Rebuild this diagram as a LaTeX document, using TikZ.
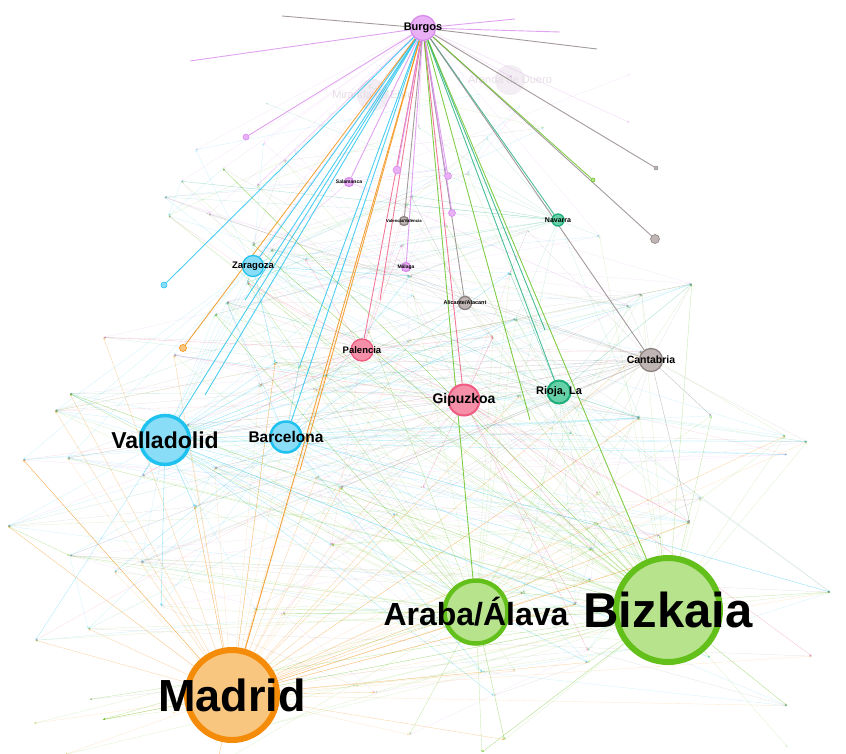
\documentclass[tikz,border=0pt]{standalone}
\usepackage{fontspec}
\setmainfont{Liberation Sans}
\usetikzlibrary{arrows.meta,backgrounds}
\definecolor{cyf}{HTML}{8ADDF6}
\definecolor{cyd}{HTML}{1FC2EF}
\definecolor{orf}{HTML}{F9C680}
\definecolor{ord}{HTML}{F48C0A}
\definecolor{grf}{HTML}{B6E38C}
\definecolor{grd}{HTML}{63C01A}
\definecolor{rdf}{HTML}{F690A9}
\definecolor{rdd}{HTML}{EE5A80}
\definecolor{tlf}{HTML}{66D1A8}
\definecolor{tld}{HTML}{1EAE7B}
\definecolor{gyf}{HTML}{BFB5B5}
\definecolor{gyd}{HTML}{8C8181}
\definecolor{vif}{HTML}{EAB0F6}
\definecolor{vid}{HTML}{D88BEB}
\definecolor{ghost}{HTML}{F3EEF3}
\definecolor{ghostt}{HTML}{E6DEE6}
\newcommand\fs[1]{\fontsize{#1}{#1}\selectfont\bfseries}
\tikzset{
  vtx/.style={circle,draw,inner sep=0pt,line width=1.3pt},
  cyv/.style={vtx,fill=cyf,draw=cyd},
  orv/.style={vtx,fill=orf,draw=ord},
  grv/.style={vtx,fill=grf,draw=grd},
  rdv/.style={vtx,fill=rdf,draw=rdd},
  tlv/.style={vtx,fill=tlf,draw=tld},
  gyv/.style={vtx,fill=gyf,draw=gyd},
  viv/.style={vtx,fill=vif,draw=vid},
  lab/.style={font=\fs{#1},text=black},
  ghostv/.style={circle,fill=ghost,label={[text=ghostt,font=\fontsize{11}{11}\selectfont]center:#1}},
  faint/.style={line width=0.3pt,opacity=0.22,-{Stealth[length=2.5pt,width=2pt]}},
  tie/.style={line width=0.9pt,opacity=0.8},
}

\begin{document}
\begin{tikzpicture}[x=1pt,y=-1pt]
  \useasboundingbox (0,0) rectangle (846,753);
  % main vertices
  \node[viv,minimum size=25pt,label={[lab=11]center:Burgos}] (burgos) at (423,28) {};
  \node[viv,minimum size=9pt,label={[lab=5]center:Salamanca}] (salamanca) at (349,182) {};
  \node[gyv,minimum size=9pt,label={[lab=4.3]center:Valencia/València}] (valencia) at (404,221) {};
  \node[viv,minimum size=9pt,label={[lab=5]center:Málaga}] (malaga) at (406,267) {};
  \node[gyv,minimum size=13pt,label={[lab=5.5]center:Alicante/Alacant}] (alicante) at (465,303) {};
  \node[tlv,minimum size=12pt,label={[lab=7]center:Navarra}] (navarra) at (558,220) {};
  \node[cyv,minimum size=21pt,label={[lab=9.5]center:Zaragoza}] (zaragoza) at (253,266) {};
  \node[rdv,minimum size=22pt,label={[lab=9.5]center:Palencia}] (palencia) at (362,350) {};
  \node[gyv,minimum size=23pt,label={[lab=10.5]center:Cantabria}] (cantabria) at (651,360) {};
  \node[rdv,minimum size=31pt,line width=2pt,label={[lab=14]center:Gipuzkoa}] (gipuzkoa) at (464,400) {};
  \node[tlv,minimum size=23pt,line width=2pt,label={[lab=11]center:{Rioja, La}}] (rioja) at (559,392) {};
  \node[cyv,minimum size=31pt,line width=2.5pt,label={[lab=15.5]center:Barcelona}] (barcelona) at (286,437) {};
  \node[cyv,minimum size=49pt,line width=3.5pt,label={[lab=23]center:Valladolid}] (valladolid) at (165,440) {};
  \node[grv,minimum size=63pt,line width=4.5pt,label={[lab=32]center:Araba/Álava}] (araba) at (476,612) {};
  \node[grv,minimum size=104pt,line width=6pt,label={[lab=49]center:Bizkaia}] (bizkaia) at (668,610) {};
  \node[orv,minimum size=90pt,line width=6pt,label={[lab=45]center:Madrid}] (madrid) at (232,695) {};
  % small vertices
  \node[cyv,minimum size=6pt,line width=0.6pt] (cy1) at (164,285) {};
  \node[orv,minimum size=7pt,line width=0.6pt] (or1) at (183,348) {};
  \node[gyv,minimum size=4pt,line width=0.5pt] (gy1) at (656,168) {};
  \node[gyv,minimum size=9pt,line width=0.6pt] (gy2) at (655,239) {};
  \node[grv,minimum size=4pt,line width=0.5pt] (gr1) at (593,180) {};
  \node[viv,minimum size=8pt,line width=0.6pt] (vi1) at (397,170) {};
  \node[viv,minimum size=7pt,line width=0.6pt] (vi2) at (448,176) {};
  \node[viv,minimum size=7pt,line width=0.6pt] (vi3) at (452,213) {};
  \node[viv,minimum size=6pt,line width=0.6pt] (vi4) at (246,137) {};
  \coordinate (tl) at (282,16);
  \coordinate (tr) at (597,49);
  \coordinate (pl) at (190,61);
  \coordinate (pr1) at (560,32);
  \coordinate (pr2) at (515,19);
  \coordinate (cx1) at (245,300);
  \coordinate (cx2) at (300,365);
  \coordinate (cx3) at (205,395);
  \coordinate (ox1) at (300,470);
  \coordinate (rx1) at (380,300);
  \coordinate (gx1) at (530,420);
  \coordinate (tx1) at (545,330);
  % scattered end points, ordered top to bottom
  \pgfmathsetseed{11}
  \foreach \i in {1,...,120}{
    \pgfmathsetmacro\py{62+\i*5.8+rnd*10}
    \pgfmathsetmacro\hw{min(225+0.45*(\py-60),428)}
    \pgfmathsetmacro\px{423+(2*rnd-1)*\hw}
    \coordinate (p\i) at (\px,\py);}
  \begin{scope}[on background layer]
    \node[ghostv=Miranda de Ebro,minimum size=32pt] (miranda) at (373,95) {};
    \node[ghostv=Aranda de Duero,minimum size=30pt] (aranda) at (510,80) {};
    \foreach \h/\c/\lo/\hi/\n in {madrid/ord/45/120/95,valladolid/cyd/30/110/60,barcelona/cyd/35/105/45,bizkaia/grd/15/120/95,araba/grd/30/120/60,cantabria/gyd/25/95/40,gipuzkoa/rdd/35/105/35,rioja/tld/30/100/30,zaragoza/cyd/10/75/30,palencia/rdd/20/85/25,navarra/tld/5/60/20,alicante/gyd/15/75/15,burgos/vid/1/35/25,salamanca/vid/1/45/12,malaga/vid/10/50/12}{
      \foreach \k in {1,...,\n}{
        \pgfmathtruncatemacro\j{random(\lo,\hi)}
        \draw[faint,\c] (\h) -- (p\j);}}
    \foreach \k in {1,...,140}{
      \pgfmathtruncatemacro\a{random(1,105)}
      \pgfmathtruncatemacro\b{\a+random(3,15)}
      \pgfmathtruncatemacro\m{mod(\k,4)}
      \ifcase\m \def\c{gyd}\or \def\c{cyd}\or \def\c{vid}\or \def\c{grd}\fi
      \draw[faint,\c] (p\a) -- (p\b);}
    \foreach \t/\c in {valladolid/cyd,barcelona/cyd,zaragoza/cyd,cy1/cyd,cx1/cyd,cx2/cyd,cx3/cyd,madrid/ord,or1/ord,ox1/ord,palencia/rdd,gipuzkoa/rdd,rx1/rdd,navarra/tld,rioja/tld,tx1/tld,cantabria/gyd,alicante/gyd,valencia/gyd,gy1/gyd,gy2/gyd,araba/grd,bizkaia/grd,gr1/grd,gx1/grd,malaga/vid,salamanca/vid,vi1/vid,vi2/vid,vi3/vid,vi4/vid,tl/gyd,tr/gyd,pl/vid,pr1/vid,pr2/vid}
      \draw[tie,\c] (burgos) -- (\t);
  \end{scope}
\end{tikzpicture}
\end{document}
